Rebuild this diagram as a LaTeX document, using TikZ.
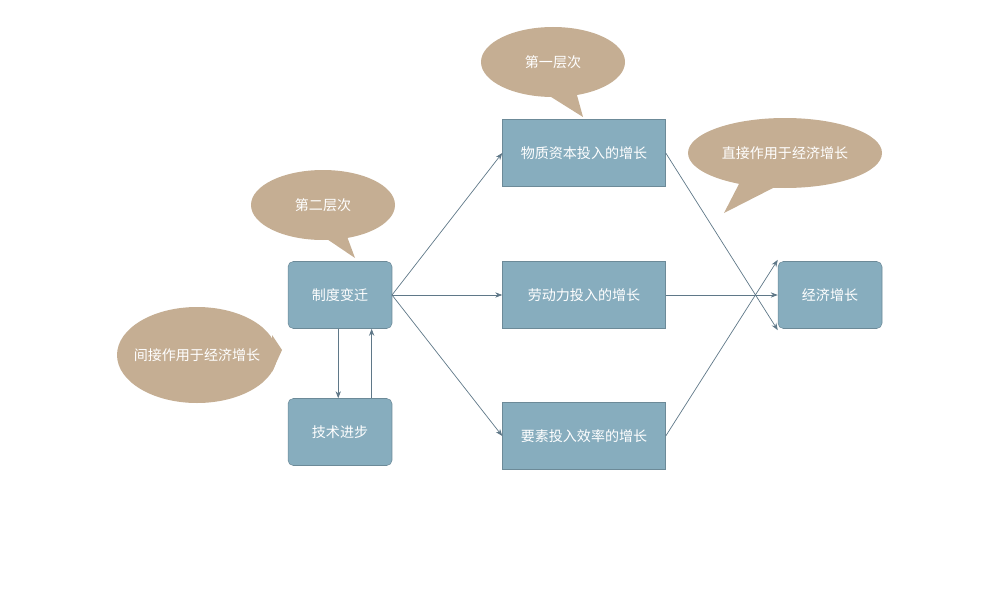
\documentclass[tikz,border=0pt]{standalone}
\usepackage{fontspec}
\setmainfont{Noto Sans CJK SC}
\usetikzlibrary{arrows.meta,positioning,shapes.geometric}
\definecolor{boxblue}{HTML}{87ADBE}
\definecolor{talk}{HTML}{C5AE93}
\definecolor{wire}{HTML}{5F7888}
\tikzset{
  stage/.style={fill=boxblue,draw=boxblue!80!black,line width=0.3pt,text=white,font=\fontsize{8}{10}\selectfont,minimum width=3.26cm,minimum height=1.34cm},
  root/.style={stage,rounded corners=3pt,minimum width=2.08cm},
  bubble/.style={fill=talk,draw=none},
  saying/.style={text=white,font=\fontsize{8}{10}\selectfont},
  link/.style={draw=wire,line width=0.4pt,-{Stealth[length=4pt,width=3pt]}}
}
\begin{document}
\begin{tikzpicture}[x=0.02cm,y=-0.02cm]
\useasboundingbox (0,0) rectangle (1000,588);
% boxes
\node [root] (inst) at (340,295) {制度变迁};
\node [root] (tech) at (340,432) {技术进步};
\node [stage] (cap) at (584,153) {物质资本投入的增长};
\node [stage] (lab) at (584,295) {劳动力投入的增长};
\node [stage] (eff) at (584,436) {要素投入效率的增长};
\node [root] (grow) at (830,295) {经济增长};
% callouts
\fill [bubble] (553,62) ellipse [x radius=72,y radius=35];
\fill [bubble] (540,90) -- (583,117) -- (575,88) -- cycle;
\node [saying] (lvl1) at (553,62) {第一层次};
\fill [bubble] (323,205) ellipse [x radius=72,y radius=35];
\fill [bubble] (318,233) -- (355,258) -- (345,231) -- cycle;
\node [saying] (lvl2) at (323,205) {第二层次};
\fill [bubble] (785,153) ellipse [x radius=97,y radius=35];
\fill [bubble] (740,182) -- (724,213) -- (775,187) -- cycle;
\node [saying] (direct) at (785,153) {直接作用于经济增长};
\fill [bubble] (197,355) ellipse [x radius=80,y radius=48];
\fill [bubble] (272,335) -- (282,350) -- (272,372) -- cycle;
\node [saying] (indirect) at (197,355) {间接作用于经济增长};
% connectors
\coordinate (instout) at (392,295);
\draw [link] (instout) -- (cap.west);
\draw [link] (instout) -- (lab.west);
\draw [link] (instout) -- (eff.west);
\draw [link] (cap.east) -- ([yshift=-20]grow.west);
\draw [link] (lab.east) -- (grow.west);
\draw [link] (eff.east) -- ([yshift=20]grow.west);
\draw [link] ([xshift=-1]inst.south) -- ([xshift=-1]tech.north);
\draw [link] ([xshift=18]tech.north) -- ([xshift=18]inst.south);
\end{tikzpicture}
\end{document}
